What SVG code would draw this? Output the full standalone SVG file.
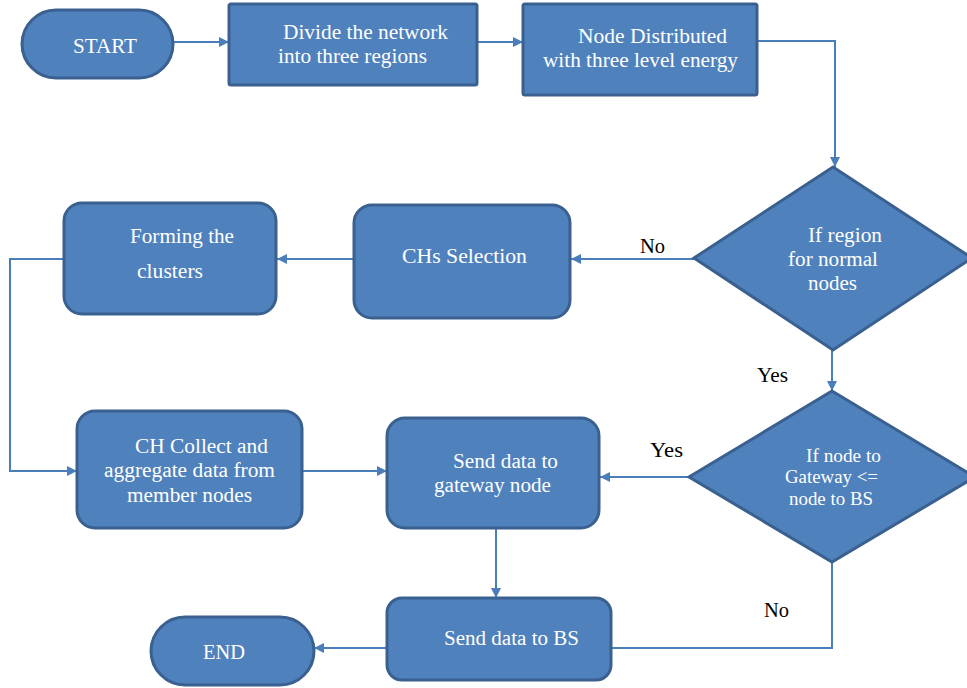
<svg xmlns="http://www.w3.org/2000/svg" width="967" height="688" viewBox="0 0 967 688">
<style>
.n{fill:#4F81BD;stroke:#3A6090;stroke-width:3}
.t{font-family:"Liberation Serif","Times New Roman",serif;font-size:20px;fill:#FFFFFF;text-anchor:middle}
.s{font-size:19px}
.l{font-family:"Liberation Serif","Times New Roman",serif;font-size:20px;fill:#000000;text-anchor:middle}
.c{fill:none;stroke:#4A7EBB;stroke-width:2}
</style>
<defs>
<marker id="ah" viewBox="0 0 10 10" refX="10" refY="5" markerWidth="5" markerHeight="5" orient="auto" markerUnits="strokeWidth">
<path d="M0,0 L10,5 L0,10 z" fill="#4A7EBB"/>
</marker>
</defs>
<rect width="967" height="688" fill="#FFFFFF"/>
<g id="connectors">
<path class="c" d="M173,42 H229" marker-end="url(#ah)"/>
<path class="c" d="M477,42 H523" marker-end="url(#ah)"/>
<path class="c" d="M757,41 H835 V167" marker-end="url(#ah)"/>
<path class="c" d="M694,259 H571" marker-end="url(#ah)"/>
<path class="c" d="M354,259 H277" marker-end="url(#ah)"/>
<path class="c" d="M64,259 H10 V471 H77" marker-end="url(#ah)"/>
<path class="c" d="M302,471 H387" marker-end="url(#ah)"/>
<path class="c" d="M832,350 V391" marker-end="url(#ah)"/>
<path class="c" d="M689,477 H600" marker-end="url(#ah)"/>
<path class="c" d="M496,528 V598" marker-end="url(#ah)"/>
<path class="c" d="M832,562 V648 H611"/>
<path class="c" d="M387,648 H314" marker-end="url(#ah)"/>
<text class="l" x="652.5" y="253" textLength="25" lengthAdjust="spacingAndGlyphs">No</text>
<text class="l" x="772.5" y="382" textLength="31" lengthAdjust="spacingAndGlyphs">Yes</text>
<text class="l" x="666.5" y="457" textLength="33" lengthAdjust="spacingAndGlyphs">Yes</text>
<text class="l" x="776.5" y="617" textLength="25" lengthAdjust="spacingAndGlyphs">No</text>
</g>
<g id="start">
<rect class="n" x="22" y="10" width="151" height="68" rx="34"/>
<text class="t" x="105" y="53" textLength="64" lengthAdjust="spacingAndGlyphs">START</text>
</g>
<g id="divide">
<rect class="n" x="229" y="4" width="248" height="81" rx="2"/>
<text class="t" x="365.5" y="39" textLength="165" lengthAdjust="spacingAndGlyphs">Divide the network</text>
<text class="t" x="352.5" y="63" textLength="149" lengthAdjust="spacingAndGlyphs">into three regions</text>
</g>
<g id="distribute">
<rect class="n" x="523" y="4" width="234" height="91" rx="2"/>
<text class="t" x="652.5" y="43" textLength="149" lengthAdjust="spacingAndGlyphs">Node Distributed</text>
<text class="t" x="640.5" y="67" textLength="195" lengthAdjust="spacingAndGlyphs">with three level energy</text>
</g>
<g id="decision1">
<polygon class="n" points="833,167 972,258 833,350 694,258"/>
<text class="t" x="845" y="242" textLength="74" lengthAdjust="spacingAndGlyphs">If region</text>
<text class="t" x="833" y="266" textLength="90" lengthAdjust="spacingAndGlyphs">for normal</text>
<text class="t" x="832.5" y="290" textLength="49" lengthAdjust="spacingAndGlyphs">nodes</text>
</g>
<g id="chs">
<rect class="n" x="354" y="205" width="216" height="113" rx="18"/>
<text class="t" x="464.5" y="263" textLength="125" lengthAdjust="spacingAndGlyphs">CHs Selection</text>
</g>
<g id="forming">
<rect class="n" x="64" y="203" width="212" height="111" rx="18"/>
<text class="t" x="182" y="243" textLength="104" lengthAdjust="spacingAndGlyphs">Forming the</text>
<text class="t" x="170" y="278" textLength="66" lengthAdjust="spacingAndGlyphs">clusters</text>
</g>
<g id="collect">
<rect class="n" x="77" y="411" width="225" height="117" rx="18"/>
<text class="t" x="201.5" y="453" textLength="133" lengthAdjust="spacingAndGlyphs">CH Collect and</text>
<text class="t" x="189.5" y="477" textLength="171" lengthAdjust="spacingAndGlyphs">aggregate data from</text>
<text class="t" x="189.5" y="502" textLength="125" lengthAdjust="spacingAndGlyphs">member nodes</text>
</g>
<g id="gateway">
<rect class="n" x="387" y="418" width="212" height="110" rx="18"/>
<text class="t" x="505.5" y="468" textLength="105" lengthAdjust="spacingAndGlyphs">Send data to</text>
<text class="t" x="492.5" y="492" textLength="117" lengthAdjust="spacingAndGlyphs">gateway node</text>
</g>
<g id="decision2">
<polygon class="n" points="832,391 975,477 832,562 689,477"/>
<text class="t s" x="843.5" y="462" textLength="75" lengthAdjust="spacingAndGlyphs">If node to</text>
<text class="t s" x="831.5" y="483" textLength="93" lengthAdjust="spacingAndGlyphs">Gateway &lt;=</text>
<text class="t s" x="831" y="505" textLength="84" lengthAdjust="spacingAndGlyphs">node to BS</text>
</g>
<g id="sendbs">
<rect class="n" x="387" y="598" width="224" height="82" rx="15"/>
<text class="t" x="511.5" y="645" textLength="135" lengthAdjust="spacingAndGlyphs">Send data to BS</text>
</g>
<g id="end">
<rect class="n" x="151" y="617" width="163" height="68" rx="34"/>
<text class="t" x="224" y="659" textLength="42" lengthAdjust="spacingAndGlyphs">END</text>
</g>
</svg>
